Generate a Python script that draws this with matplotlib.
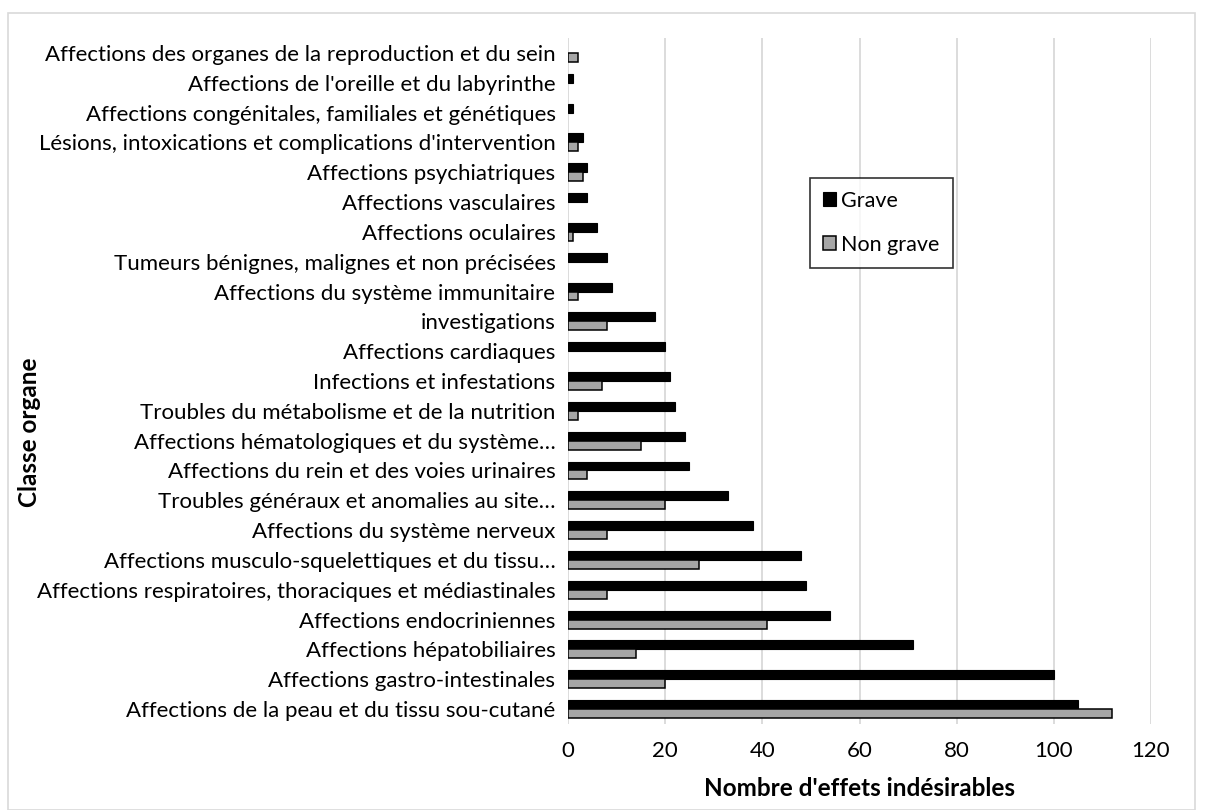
import matplotlib
matplotlib.use("Agg")
import matplotlib.pyplot as plt
import numpy as np
from matplotlib.patches import Rectangle

categories = [
    "Affections de la peau et du tissu sou-cutané",
    "Affections gastro-intestinales",
    "Affections hépatobiliaires",
    "Affections endocriniennes",
    "Affections respiratoires, thoraciques et médiastinales",
    "Affections musculo-squelettiques et du tissu…",
    "Affections du système nerveux",
    "Troubles généraux et anomalies au site…",
    "Affections du rein et des voies urinaires",
    "Affections hématologiques et du système…",
    "Troubles du métabolisme et de la nutrition",
    "Infections et infestations",
    "Affections cardiaques",
    "investigations",
    "Affections du système immunitaire",
    "Tumeurs bénignes, malignes et non précisées",
    "Affections oculaires",
    "Affections vasculaires",
    "Affections psychiatriques",
    "Lésions, intoxications et complications d'intervention",
    "Affections congénitales, familiales et génétiques",
    "Affections de l'oreille et du labyrinthe",
    "Affections des organes de la reproduction et du sein",
]
grave = [105, 100, 71, 54, 49, 48, 38, 33, 25, 24, 22, 21, 20, 18, 9, 8, 6, 4, 4, 3, 1, 1, 0]
non_grave = [112, 20, 14, 41, 8, 27, 8, 20, 4, 15, 2, 7, 0, 8, 2, 0, 1, 0, 3, 2, 0, 0, 2]
x_ticks = [0, 20, 40, 60, 80, 100, 120]

plt.rcParams["font.family"] = ["Lato", "DejaVu Sans"]

fig = plt.figure(figsize=(12.05, 8.1), dpi=100)
fig.patches.append(Rectangle((8 / 1205, 0), 1187 / 1205, 797 / 810, transform=fig.transFigure,
                             fill=False, edgecolor="#d9d9d9", linewidth=1.2))
ax = fig.add_axes([568 / 1205, 1 - 724 / 810, (1151 - 568) / 1205, (724 - 38) / 810])

y = np.arange(len(categories))
h = 0.3
# empty categories get no outline so nothing is drawn for them
lw_g = [0.8 if v > 0 else 0 for v in grave]
lw_n = [1.1 if v > 0 else 0 for v in non_grave]
ax.barh(y + h / 2, grave, height=h, color="black", edgecolor="black", linewidth=lw_g,
        label="Grave", zorder=3)
ax.barh(y - h / 2, non_grave, height=h, color="#a6a6a6", edgecolor="black", linewidth=lw_n,
        label="Non grave", zorder=3)

ax.set_xlim(0, 120)
ax.set_ylim(-0.5, len(categories) - 0.5)
ax.set_xticks(x_ticks)
ax.set_xticklabels([str(t) for t in x_ticks], fontsize=16)
ax.set_yticks(y)
ax.set_yticklabels(categories, fontsize=16)
ax.tick_params(axis="x", length=0, pad=12)
ax.tick_params(axis="y", length=0, pad=9)
ax.grid(axis="x", color="#d9d9d9", linewidth=1.3, zorder=0)
for s in ax.spines.values():
    s.set_visible(False)

ax.set_xlabel("Nombre d'effets indésirables", fontsize=17.5, fontweight="bold", labelpad=12)
fig.text(30 / 1205, 1 - 432 / 810, "Classe organe", rotation=90, fontsize=17.5,
         fontweight="bold", ha="center", va="center")

leg = ax.legend(loc="upper left", bbox_to_anchor=((810 - 568) / (1151 - 568), 1 - (178 - 38) / 686),
                fontsize=15.5, frameon=True, fancybox=False, edgecolor="black",
                handlelength=0.6, handleheight=0.6, handletextpad=0.25, labelspacing=1.1,
                borderpad=0.6, borderaxespad=0)
leg.get_frame().set_linewidth(1.2)

fig.savefig("out.png", dpi=100)
